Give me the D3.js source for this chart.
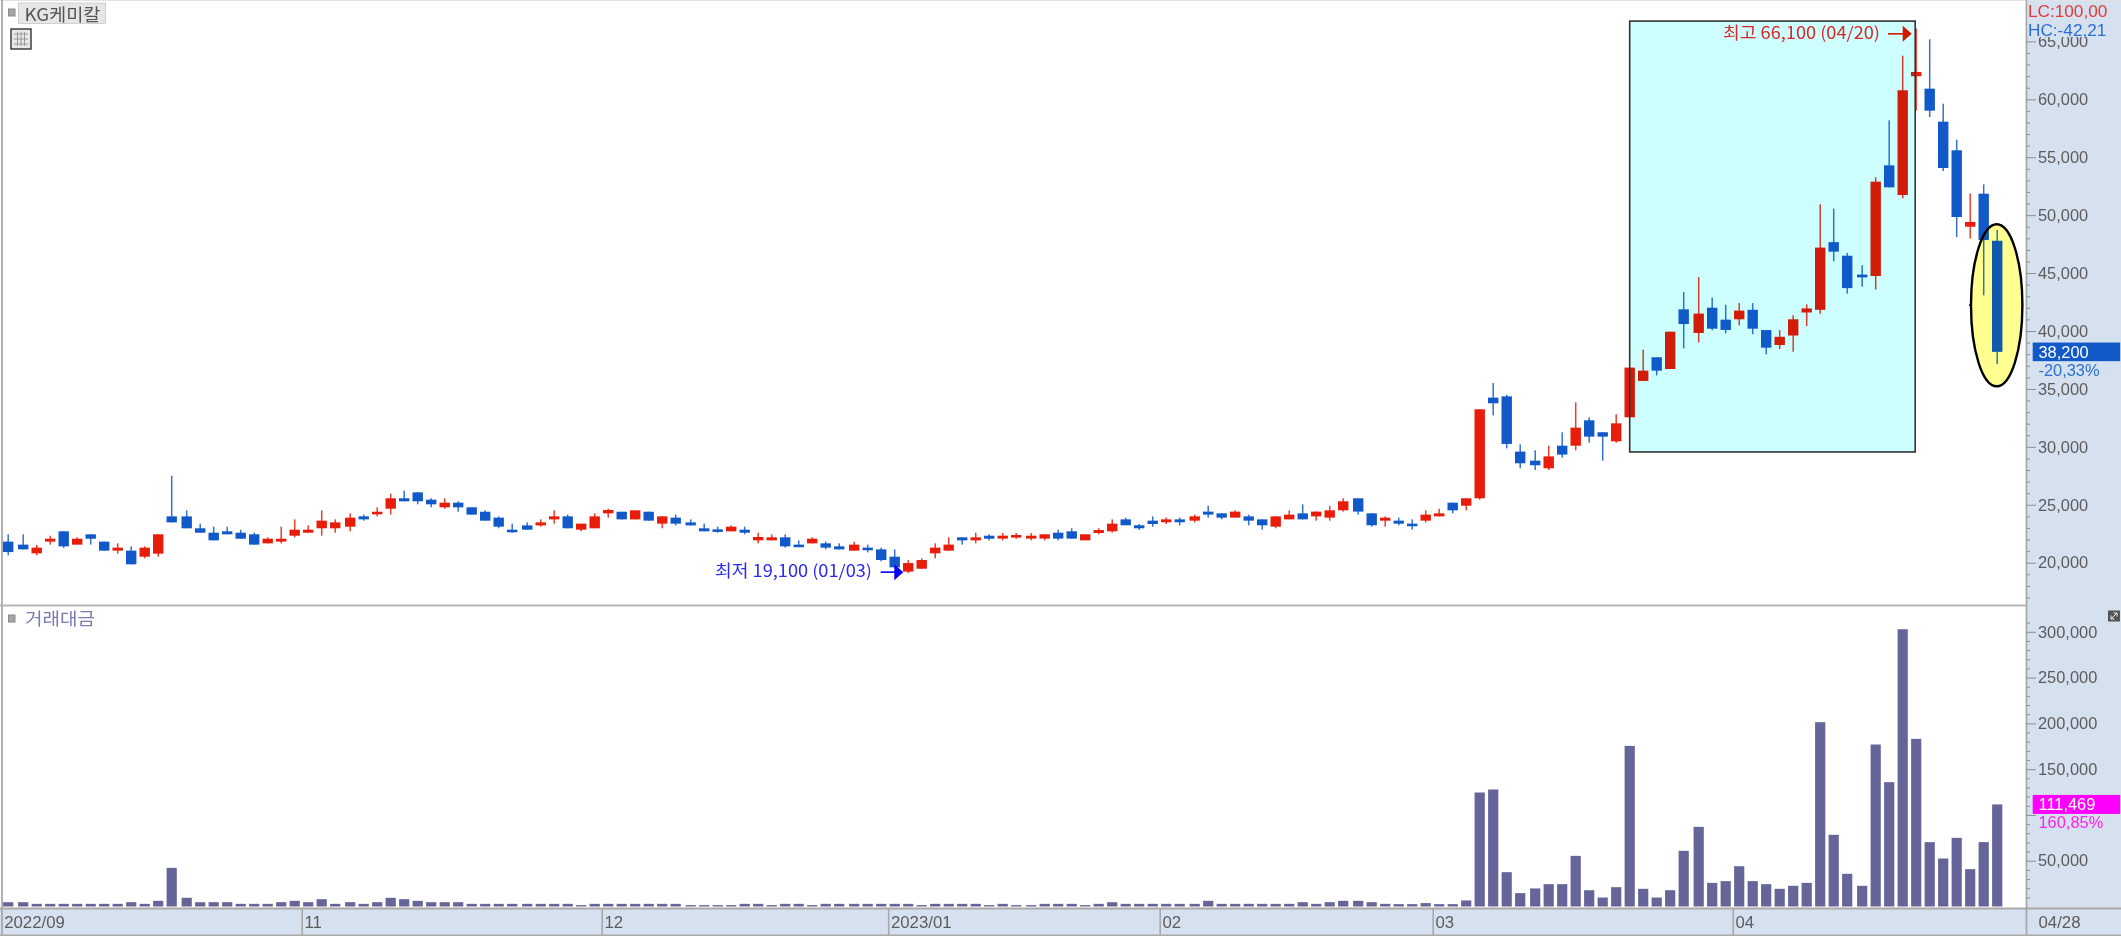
<!DOCTYPE html>
<html><head><meta charset="utf-8">
<style>
html,body{margin:0;padding:0;background:#fff;overflow:hidden}
svg{display:block;filter:blur(0.35px)}
text{font-family:"Liberation Sans",Arial,sans-serif}
.cjk{font-family:"Noto Sans CJK KR","Liberation Sans",sans-serif}
</style>
<script src="https://cdnjs.cloudflare.com/ajax/libs/d3/7.8.5/d3.min.js"></script>
</head><body><svg id="c" width="2121" height="936"></svg>
<script>
const opens=[21820,21560,20810,21820,22710,21560,22450,21820,21040,21040,
20520,20780,24000,24000,22970,22590,22710,22590,22450,21670,
21820,22330,22590,22970,22970,23110,24000,24260,24660,25560,
26070,25440,24780,25180,24780,24400,23890,22850,23220,23220,
23740,24000,22850,22970,24260,24400,23740,24400,23370,23890,
23480,22970,22880,22710,22850,21930,21930,22190,21560,21670,
21670,21410,21040,21300,21150,20520,19230,19480,20810,21040,
22190,21930,22330,22080,22190,22080,22080,22590,22710,21930,
22560,22710,23740,23230,23630,23490,23740,23630,24410,24260,
23890,24000,23740,23110,23740,24260,24000,23890,24520,25560,
24260,23630,23630,23370,23630,24000,25180,24920,25560,34250,
34360,29590,28810,28150,30100,30100,32290,31260,30480,32550,
35690,37730,36720,41870,39830,42010,40980,41010,41830,40080,
38790,39610,41600,41830,47670,46500,44870,44750,54300,51740,
61990,60920,58070,55600,49000,51850,47790];
const highs=[22450,22450,21530,22330,22710,22190,22450,21820,21670,21410,
21410,22450,27510,24520,23370,23110,23110,22850,22590,22190,
23110,23740,23220,24520,23740,24260,24150,24780,25960,26220,
26070,25560,25560,25300,24780,24520,24000,23370,23480,23740,
24520,24150,23370,24260,24660,24400,24520,24400,24000,24150,
23740,23370,23110,23220,23110,22590,22450,22450,21930,22190,
21820,21670,21820,21560,21300,21150,20230,20380,21670,22190,
22190,22590,22450,22560,22560,22560,22450,22850,22970,22450,
22970,23740,23890,23340,24000,23890,23890,24150,24920,24260,
24520,24150,23740,24000,24520,25040,24410,24920,25560,25560,
24260,24000,23890,23740,24520,24660,25180,25560,33240,35510,
34500,30220,29700,30100,31260,33840,32550,31260,32810,36840,
38390,37730,39940,43370,44660,42880,42270,42420,42410,40080,
40080,41360,42300,50940,50560,46740,45680,53270,58190,63760,
66100,65180,59620,56510,51870,52660,48720];
const lows=[20640,21150,20640,21560,21270,21560,21560,21040,20780,19860,
20380,20520,23480,22970,22590,21930,22450,22070,21560,21670,
21670,22190,22590,22330,22590,22710,23630,24000,24150,25300,
25040,24780,24660,24400,24150,23630,22970,22590,22850,23110,
23370,22970,22710,22970,23890,23740,23740,23630,22970,23220,
23220,22710,22590,22710,22450,21670,21930,21300,21410,21670,
21150,21150,21040,20890,20120,19600,19100,19480,20380,21040,
21560,21670,21930,21930,22070,21930,21930,21930,22070,21930,
22450,22590,23230,22820,23110,23340,23230,23480,23890,23740,
23890,23230,22850,22970,23740,23740,23630,23630,24410,24150,
23110,23110,23230,22850,23480,24000,24260,24520,25440,32720,
29870,28150,28000,28000,29070,29700,30360,28810,30360,32550,
35690,36170,36720,38500,39020,40060,39800,40490,39730,37980,
38440,38210,40430,41480,46030,43230,43820,43580,52400,51450,
59020,58470,53810,48110,47980,43080,37150];
const closes=[20920,21150,21300,22070,21410,22070,22070,21040,21300,19860,
21300,22450,23480,22970,22590,21930,22450,22070,21560,22070,
22070,22850,22850,23630,23480,23890,23740,24400,25560,25300,
25300,25040,25180,24780,24150,23630,23110,22710,22850,23480,
24000,22970,23370,24000,24550,23740,24520,23630,24000,23370,
23220,22710,22710,23110,22590,22220,22190,21410,21410,22070,
21300,21150,21560,21150,20230,19600,19970,20230,21300,21560,
21930,22190,22070,22330,22390,22330,22450,22080,22080,22450,
22820,23370,23230,22970,23340,23740,23490,24000,24150,23890,
24410,23630,23230,24000,24150,23740,24410,24520,25300,24410,
23230,23890,23370,23230,24150,24260,24520,25560,33240,33760,
30250,28580,28410,29180,29330,31660,30880,30880,32030,36840,
36580,36580,39940,40600,41500,40200,40090,41760,40200,38560,
39500,41010,41950,47200,46850,43700,44630,52890,52400,60780,
62360,59020,54070,49840,49410,47850,38200];
const volumes=[4700,4700,2900,2900,2900,2900,2900,2900,2900,4700,
2900,6200,42200,9500,4700,4700,4700,2900,2900,2900,
4700,6200,4700,8000,2900,4700,2900,4700,9500,8000,
6200,4700,4700,4700,2900,2900,2900,2900,2900,2900,
2900,2900,1500,2900,2900,2900,2900,2900,2900,2900,
1500,1500,1500,1500,2900,2900,1500,2900,2900,1500,
2900,2900,2900,2900,2900,2900,2900,1500,2900,2900,
2900,2900,1500,2900,1500,1500,2900,2900,2900,1500,
2900,4700,2900,2900,2900,2900,2900,2900,6200,2900,
2900,2900,2900,2900,2900,4700,2900,4700,6200,6200,
4700,2900,2600,2600,3700,2600,2600,6600,124500,127800,
37500,14600,19700,24400,24400,55300,17800,9800,21100,175400,
19300,9800,17800,60800,87000,25800,27700,44000,27700,24400,
19300,22600,25800,201300,78300,35700,22600,176900,135800,302800,
183100,70300,52400,75000,40800,70300,111469];
const monthLabels=["2022/09","11","12","2023/01","02","03","04"];
const monthStarts=[0,22,44,65,85,105,127];
const priceTicks=[20000,25000,30000,35000,40000,45000,50000,55000,60000,65000];
const volumeTicks=[50000,100000,150000,200000,250000,300000];
const stockName="KG케미칼", volumeName="거래대금";
const maxNote="최고 66,100 (04/20)", minNote="최저 19,100 (01/03)";
const lastPriceText="38,200", lastChangeText="-20,33%", lastVolumeText="111,469", lastVolumeChangeText="160,85%";
const endDateText="04/28", lcText="LC:100,00", hcText="HC:-42,21";
const maxIdx=140,minIdx=66,lastIdx=146,boxStart=119,boxEnd=140;

const RED="#e81c0a",BLUE="#1159c9",PANEL="#d6e1ef",GRID="#a9a9a9",TXT="#5c5c5c",VOL="#65659a";
const W=2121,H=936,plotR=2026.5,paneY=605.5,axisY=908.5;
const svg=d3.select("#c");

// x: daily slots with the small periodic gap of the source renderer
const xBase=d3.scaleLinear().domain([0,1]).range([9.7,23.2]);
const gap=d3.scaleLinear().domain([0,1]).range([0,1.5]);
const xPos=i=>xBase(i)+gap(Math.floor(i*3/37-0.01));
const yP=d3.scaleLinear().domain([60000,20000]).range([99.3,562.7]);
const yV=d3.scaleLinear().domain([0,300000]).range([906.5,631.8]);
const idx=d3.range(opens.length);

svg.append("rect").attr("width",W).attr("height",H).attr("fill","#fff");
// side panels
svg.append("rect").attr("x",plotR).attr("y",0).attr("width",W-plotR).attr("height",H).attr("fill",PANEL);
svg.append("rect").attr("x",0).attr("y",axisY).attr("width",W).attr("height",H-axisY).attr("fill",PANEL);

const yBoxTop=yP(66750),yBoxBot=yP(29560),xBoxL=xPos(boxStart),xBoxR=xPos(boxEnd)-1;
const eCx=xPos(lastIdx)-0.5,eCy=yP(42220),eRx=25.7,eRy=81;
// under-layers
svg.append("rect").attr("x",xBoxL).attr("y",yBoxTop).attr("width",xBoxR-xBoxL).attr("height",yBoxBot-yBoxTop).attr("fill","#e4ffff");
svg.append("ellipse").attr("cx",eCx).attr("cy",eCy).attr("rx",eRx).attr("ry",eRy).attr("fill","#ffffa8");

// candles
const cg=svg.append("g");
const col=i=>closes[i]>=opens[i]?RED:BLUE;
cg.selectAll("rect.w").data(idx).join("rect").attr("class","w")
 .attr("x",i=>xPos(i)-0.75).attr("width",1.5)
 .attr("y",i=>yP(highs[i])).attr("height",i=>yP(lows[i])-yP(highs[i]))
 .attr("fill",col).attr("fill-opacity",0.85);
cg.selectAll("rect.b").data(idx).join("rect").attr("class","b")
 .attr("x",i=>xPos(i)-5.2).attr("width",10.4)
 .attr("y",i=>yP(Math.max(opens[i],closes[i])))
 .attr("height",i=>Math.max(2.6,Math.abs(yP(opens[i])-yP(closes[i]))))
 .attr("fill",col);

// over-layers
svg.append("rect").attr("x",xBoxL).attr("y",yBoxTop).attr("width",xBoxR-xBoxL).attr("height",yBoxBot-yBoxTop)
 .attr("fill","#e6ffff").style("mix-blend-mode","multiply");
svg.append("rect").attr("x",xBoxL).attr("y",yBoxTop).attr("width",xBoxR-xBoxL).attr("height",yBoxBot-yBoxTop)
 .attr("fill","none").attr("stroke","#333").attr("stroke-width",1.6);
svg.append("ellipse").attr("cx",eCx).attr("cy",eCy).attr("rx",eRx).attr("ry",eRy)
 .attr("fill","#ffffd9").style("mix-blend-mode","multiply");
svg.append("ellipse").attr("cx",eCx).attr("cy",eCy).attr("rx",eRx).attr("ry",eRy)
 .attr("fill","none").attr("stroke","#000").attr("stroke-width",2.4);

// volume bars
svg.append("g").selectAll("rect").data(idx).join("rect")
 .attr("x",i=>xPos(i)-5.1).attr("width",10.2)
 .attr("y",i=>yV(volumes[i])).attr("height",i=>yV(0)-yV(volumes[i]))
 .attr("fill",VOL);

// frame lines
const line=(x1,y1,x2,y2,w,c)=>svg.append("line").attr("x1",x1).attr("y1",y1).attr("x2",x2).attr("y2",y2).attr("stroke",c||GRID).attr("stroke-width",w);
line(0,0.5,W,0.5,1,"#e2e2e2");
line(2,0,2,H,1.8);
line(0,paneY,plotR,paneY,1.8,"#b5b5b5");
line(0,axisY,W,axisY,1.8);
line(0,935.2,W,935.2,1.6);
line(plotR,0,plotR,H,1.8);

// y axes
function styleAxis(g){g.select(".domain").remove();g.selectAll("line").attr("stroke","#8f8f8f").attr("stroke-width",1);
 g.selectAll("text").attr("fill",TXT).attr("font-size",16.4).attr("font-family","'Liberation Sans',Arial,sans-serif");}
const minorP=d3.range(17000,66000,1000).filter(v=>v%5000);
svg.append("g").attr("transform",`translate(${plotR},0)`).call(d3.axisRight(yP).tickValues(minorP).tickSize(3.5).tickFormat("")).call(styleAxis);
svg.append("g").attr("transform",`translate(${plotR},0)`).call(d3.axisRight(yP).tickValues(priceTicks).tickSize(9.5).tickPadding(2).tickFormat(d3.format(","))).call(styleAxis);
const minorV=d3.range(0,320000,10000).filter(v=>v%50000);
svg.append("g").attr("transform",`translate(${plotR},0)`).call(d3.axisRight(yV).tickValues(minorV).tickSize(3.5).tickFormat("")).call(styleAxis);
svg.append("g").attr("transform",`translate(${plotR},0)`).call(d3.axisRight(yV).tickValues(volumeTicks).tickSize(9.5).tickPadding(2).tickFormat(v=>v===100000?"":d3.format(",")(v))).call(styleAxis);

// top-right readouts
svg.append("rect").attr("x",plotR+1).attr("y",1).attr("width",W-plotR-1).attr("height",36).attr("fill",PANEL);
const tx=(x,y,s,c,fs,cls)=>{const t=svg.append("text").attr("x",x).attr("y",y).attr("fill",c).attr("font-size",fs).attr("dominant-baseline","central").text(s);if(cls)t.attr("class",cls);return t;};
tx(2028,11,lcText,"#e23b3b",17.2);
tx(2028,29.5,hcText,"#2b6fd6",17.2);

// current value tags
svg.append("rect").attr("x",2032.7).attr("y",yP(closes[lastIdx])-9.3).attr("width",87.5).attr("height",18.6).attr("fill",BLUE);
tx(2038.5,yP(closes[lastIdx]),lastPriceText,"#fff",16.4);
tx(2038.5,yP(closes[lastIdx])+18,lastChangeText,"#2b6fd6",16.4);
svg.append("rect").attr("x",2032.7).attr("y",yV(volumes[lastIdx])-9.5).attr("width",87.5).attr("height",19).attr("fill","#ff00ff");
tx(2038.5,yV(volumes[lastIdx]),lastVolumeText,"#fff",16.4);
tx(2038.5,yV(volumes[lastIdx])+18,lastVolumeChangeText,"#ff22ee",16.4);

// month separators and labels
monthStarts.forEach((m,k)=>{
 const sx=k===0?2:xPos(m)-6;
 if(k>0) line(sx,axisY,sx,H,1.6);
 tx(sx+2.2,922,monthLabels[k],TXT,16.8);
});
tx(2038.5,922,endDateText,TXT,16.8);

// notes with arrows
function arrow(x1,x2,y,c){
 line(x1,y,x2-8,y,1.6,c);
 svg.append("path").attr("d",`M${x2-9},${y-8}L${x2},${y}L${x2-9},${y+8}Z`).attr("fill",c);
}
const hiY=yP(highs[maxIdx])+5.2,loY=yP(lows[minIdx])-1;
tx(1723,32,maxNote,"#d8282a",16.6,"cjk").attr("textLength",157).attr("lengthAdjust","spacingAndGlyphs");
arrow(1888,1911.7,hiY,"#d01800");
tx(715,570,minNote,"#2a2af0",16.6,"cjk").attr("textLength",157).attr("lengthAdjust","spacingAndGlyphs");
arrow(880.7,903.3,loY,"#0000f0");
line(eCx-eRx-2,eCy,eCx-eRx,eCy,1.5,"#000");

// header widgets
const sq=(x,y)=>svg.append("rect").attr("x",x).attr("y",y).attr("width",6.5).attr("height",7).attr("fill","#a4a4a4").attr("stroke","#8a8a8a").attr("stroke-width",1);
sq(8.5,9);
svg.append("rect").attr("x",18.5).attr("y",3).attr("width",87).attr("height",20.5).attr("fill","#e6e6e6").attr("stroke","#d0d0d0");
tx(24.5,13.5,stockName,"#555",17.5,"cjk").attr("textLength",76).attr("lengthAdjust","spacingAndGlyphs");
svg.append("rect").attr("x",11).attr("y",29).attr("width",20).attr("height",20).attr("fill","#e9e9e9").attr("stroke","#333").attr("stroke-width",1.4);
svg.append("path").attr("d","M14,34H28M14,39H28M14,44H28M17.5,32V46M21,32V46M24.5,32V46").attr("stroke","#999").attr("stroke-width",1).attr("fill","none");
sq(8.5,615);
tx(25,617.5,volumeName,"#7a7ab4",17.5,"cjk").attr("textLength",70).attr("lengthAdjust","spacingAndGlyphs");
svg.append("rect").attr("x",2108).attr("y",610.5).attr("width",12).attr("height",11).attr("fill","#555");
svg.append("path").attr("d","M2111,619L2117,613M2113.5,613H2117V616.5M2111,615.5V619H2114.5").attr("stroke","#eee").attr("stroke-width",1).attr("fill","none");
</script></body></html>
